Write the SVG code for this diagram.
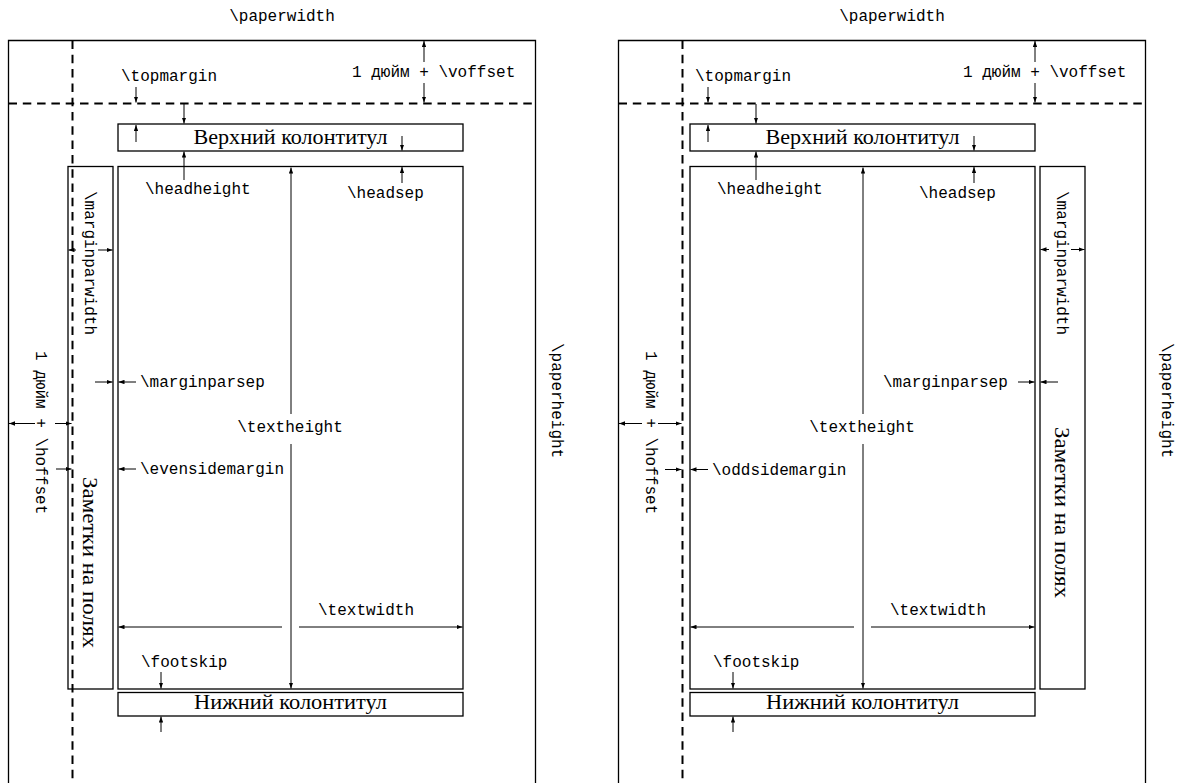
<svg xmlns="http://www.w3.org/2000/svg" width="1179" height="783" viewBox="0 0 1179 783">
  <style>
    .bg { fill: #ffffff; }
    .box { fill: none; stroke: #000; stroke-width: 1.3; }
    .frame { fill: none; stroke: #000; stroke-width: 1.3; }
    .dash { fill: none; stroke: #000; stroke-width: 2; stroke-dasharray: 8.5 5.8; }
    .arr { fill: none; stroke: #000; stroke-width: 1; marker-end: url(#ah); }
    .tt { font-family: "Liberation Mono", "DejaVu Sans Mono", monospace; font-size: 16px; fill: #000; }
    .rm { font-family: "Liberation Serif", "DejaVu Serif", serif; font-size: 21px; fill: #000; }
    .mid { text-anchor: middle; }
  </style>
  <defs>
    <marker id="ah" viewBox="0 0 6 4.4" refX="6" refY="2.2" markerWidth="6" markerHeight="4.4" orient="auto" markerUnits="userSpaceOnUse">
      <path d="M0,0 L6,2.2 L0,4.4 z" fill="#000"/>
    </marker>
  </defs>
  <rect class="bg" x="0" y="0" width="1179" height="783"/>

  <!-- ===== Even (left) page ===== -->
  <g id="even-page">
    <g id="even-paper">
      <path class="frame" d="M8.5,790 V40.5 H535.5 V790"/>
      <text class="tt mid" x="282" y="21">\paperwidth</text>
      <text class="tt" transform="translate(552,343) rotate(90)">\paperheight</text>
    </g>
    <g id="even-topmargin-label">
      <text class="tt" x="121" y="81">\topmargin</text>
    </g>
    <g id="even-voffset-label">
      <text class="tt" x="352" y="77">1 дюйм + \voffset</text>
    </g>
    <g id="even-hoffset-label">
      <text class="tt" transform="translate(35.5,351) rotate(90)">1 дюйм + \hoffset</text>
    </g>
    <g id="even-header">
      <rect class="box" x="118" y="124" width="345" height="27"/>
      <text class="rm mid" x="290.5" y="144" textLength="194" lengthAdjust="spacingAndGlyphs">Верхний колонтитул</text>
    </g>
    <g id="even-body">
      <rect class="box" x="118" y="166.5" width="345" height="522.5"/>
      <text class="tt" x="145" y="194">\headheight</text>
      <text class="tt" x="347" y="198">\headsep</text>
      <text class="tt mid" x="290" y="432">\textheight</text>
      <text class="tt" x="140" y="387">\marginparsep</text>
      <text class="tt" x="140" y="474">\evensidemargin</text>
      <text class="tt" x="318" y="615">\textwidth</text>
      <text class="tt" x="141" y="667">\footskip</text>
    </g>
    <g id="even-marginpar">
      <rect class="box" x="68" y="166.5" width="45" height="522.5"/>
      <text class="tt" transform="translate(85,191) rotate(90)">\marginparwidth</text>
      <text class="rm" transform="translate(82.5,477) rotate(90)" textLength="171" lengthAdjust="spacingAndGlyphs">Заметки на полях</text>
    </g>
    <g id="even-footer">
      <rect class="box" x="118" y="692.5" width="345" height="23.5"/>
      <text class="rm mid" x="290.5" y="709" textLength="193" lengthAdjust="spacingAndGlyphs">Нижний колонтитул</text>
    </g>
  </g>

  <!-- ===== Odd (right) page ===== -->
  <g id="odd-page">
    <g id="odd-paper">
      <path class="frame" d="M618.5,790 V40.5 H1145.5 V790"/>
      <text class="tt mid" x="892" y="21">\paperwidth</text>
      <text class="tt" transform="translate(1161.5,343) rotate(90)">\paperheight</text>
    </g>
    <g id="odd-topmargin-label">
      <text class="tt" x="695" y="81">\topmargin</text>
    </g>
    <g id="odd-voffset-label">
      <text class="tt" x="963" y="77">1 дюйм + \voffset</text>
    </g>
    <g id="odd-hoffset-label">
      <text class="tt" transform="translate(645.5,351) rotate(90)">1 дюйм + \hoffset</text>
    </g>
    <g id="odd-header">
      <rect class="box" x="690" y="124" width="345" height="27"/>
      <text class="rm mid" x="862.5" y="144" textLength="194" lengthAdjust="spacingAndGlyphs">Верхний колонтитул</text>
    </g>
    <g id="odd-body">
      <rect class="box" x="690" y="166.5" width="345" height="522.5"/>
      <text class="tt" x="717" y="194">\headheight</text>
      <text class="tt" x="919" y="198">\headsep</text>
      <text class="tt mid" x="862" y="432">\textheight</text>
      <text class="tt" x="883" y="387">\marginparsep</text>
      <text class="tt" x="712" y="475">\oddsidemargin</text>
      <text class="tt" x="890" y="615">\textwidth</text>
      <text class="tt" x="713" y="667">\footskip</text>
    </g>
    <g id="odd-marginpar">
      <rect class="box" x="1040" y="166.5" width="45" height="522.5"/>
      <text class="tt" transform="translate(1057,191) rotate(90)">\marginparwidth</text>
      <text class="rm" transform="translate(1054.5,427) rotate(90)" textLength="171" lengthAdjust="spacingAndGlyphs">Заметки на полях</text>
    </g>
    <g id="odd-footer">
      <rect class="box" x="690" y="692.5" width="345" height="23.5"/>
      <text class="rm mid" x="862.5" y="709" textLength="193" lengthAdjust="spacingAndGlyphs">Нижний колонтитул</text>
    </g>
  </g>

  <!-- ===== Reference lines and dimension arrows ===== -->
  <g id="connectors">
    <!-- one-inch reference lines -->
    <path class="dash" d="M8.5,103.5 H535.5"/>
    <path class="dash" d="M72.5,40.5 V790"/>
    <path class="dash" d="M618.5,103.5 H1145.5"/>
    <path class="dash" d="M682.5,40.5 V790"/>

    <!-- even page -->
    <path class="arr" d="M136,87 V102.5"/>
    <path class="arr" d="M424,62 V41"/>
    <path class="arr" d="M424,83 V102.5"/>
    <path class="arr" d="M184,104 V123.5"/>
    <path class="arr" d="M136,142 V125"/>
    <path class="arr" d="M402,136 V150.5"/>
    <path class="arr" d="M184,180 V151.5"/>
    <path class="arr" d="M402,183 V167"/>
    <path class="arr" d="M291,414 V167.5"/>
    <path class="arr" d="M291,444 V688.5"/>
    <path class="arr" d="M76,250 H68.5"/>
    <path class="arr" d="M98,250 H112.5"/>
    <path class="arr" d="M95,382 H112.5"/>
    <path class="arr" d="M136,382 H118.5"/>
    <path class="arr" d="M35,423.5 H9"/>
    <path class="arr" d="M55,423.5 H71.5"/>
    <path class="arr" d="M56,469 H71.5"/>
    <path class="arr" d="M136,469 H118.5"/>
    <path class="arr" d="M282,627 H118.5"/>
    <path class="arr" d="M299,627 H462.5"/>
    <path class="arr" d="M161,672 V688.5"/>
    <path class="arr" d="M161,732 V716.5"/>

    <!-- odd page -->
    <path class="arr" d="M708,87 V102.5"/>
    <path class="arr" d="M1035,62 V41"/>
    <path class="arr" d="M1035,83 V102.5"/>
    <path class="arr" d="M756,104 V123.5"/>
    <path class="arr" d="M708,142 V125"/>
    <path class="arr" d="M974,136 V150.5"/>
    <path class="arr" d="M756,180 V151.5"/>
    <path class="arr" d="M974,183 V167"/>
    <path class="arr" d="M863,414 V167.5"/>
    <path class="arr" d="M863,444 V688.5"/>
    <path class="arr" d="M1049,249.5 H1040.5"/>
    <path class="arr" d="M1071,249.5 H1084.5"/>
    <path class="arr" d="M1018,382 H1034.5"/>
    <path class="arr" d="M1058,382 H1040.5"/>
    <path class="arr" d="M642,423.5 H619"/>
    <path class="arr" d="M658,423.5 H681.5"/>
    <path class="arr" d="M665,469.5 H681.5"/>
    <path class="arr" d="M708,469.5 H690.5"/>
    <path class="arr" d="M854,627 H690.5"/>
    <path class="arr" d="M871,627 H1034.5"/>
    <path class="arr" d="M733,672 V688.5"/>
    <path class="arr" d="M733,732 V716.5"/>
  </g>
</svg>
